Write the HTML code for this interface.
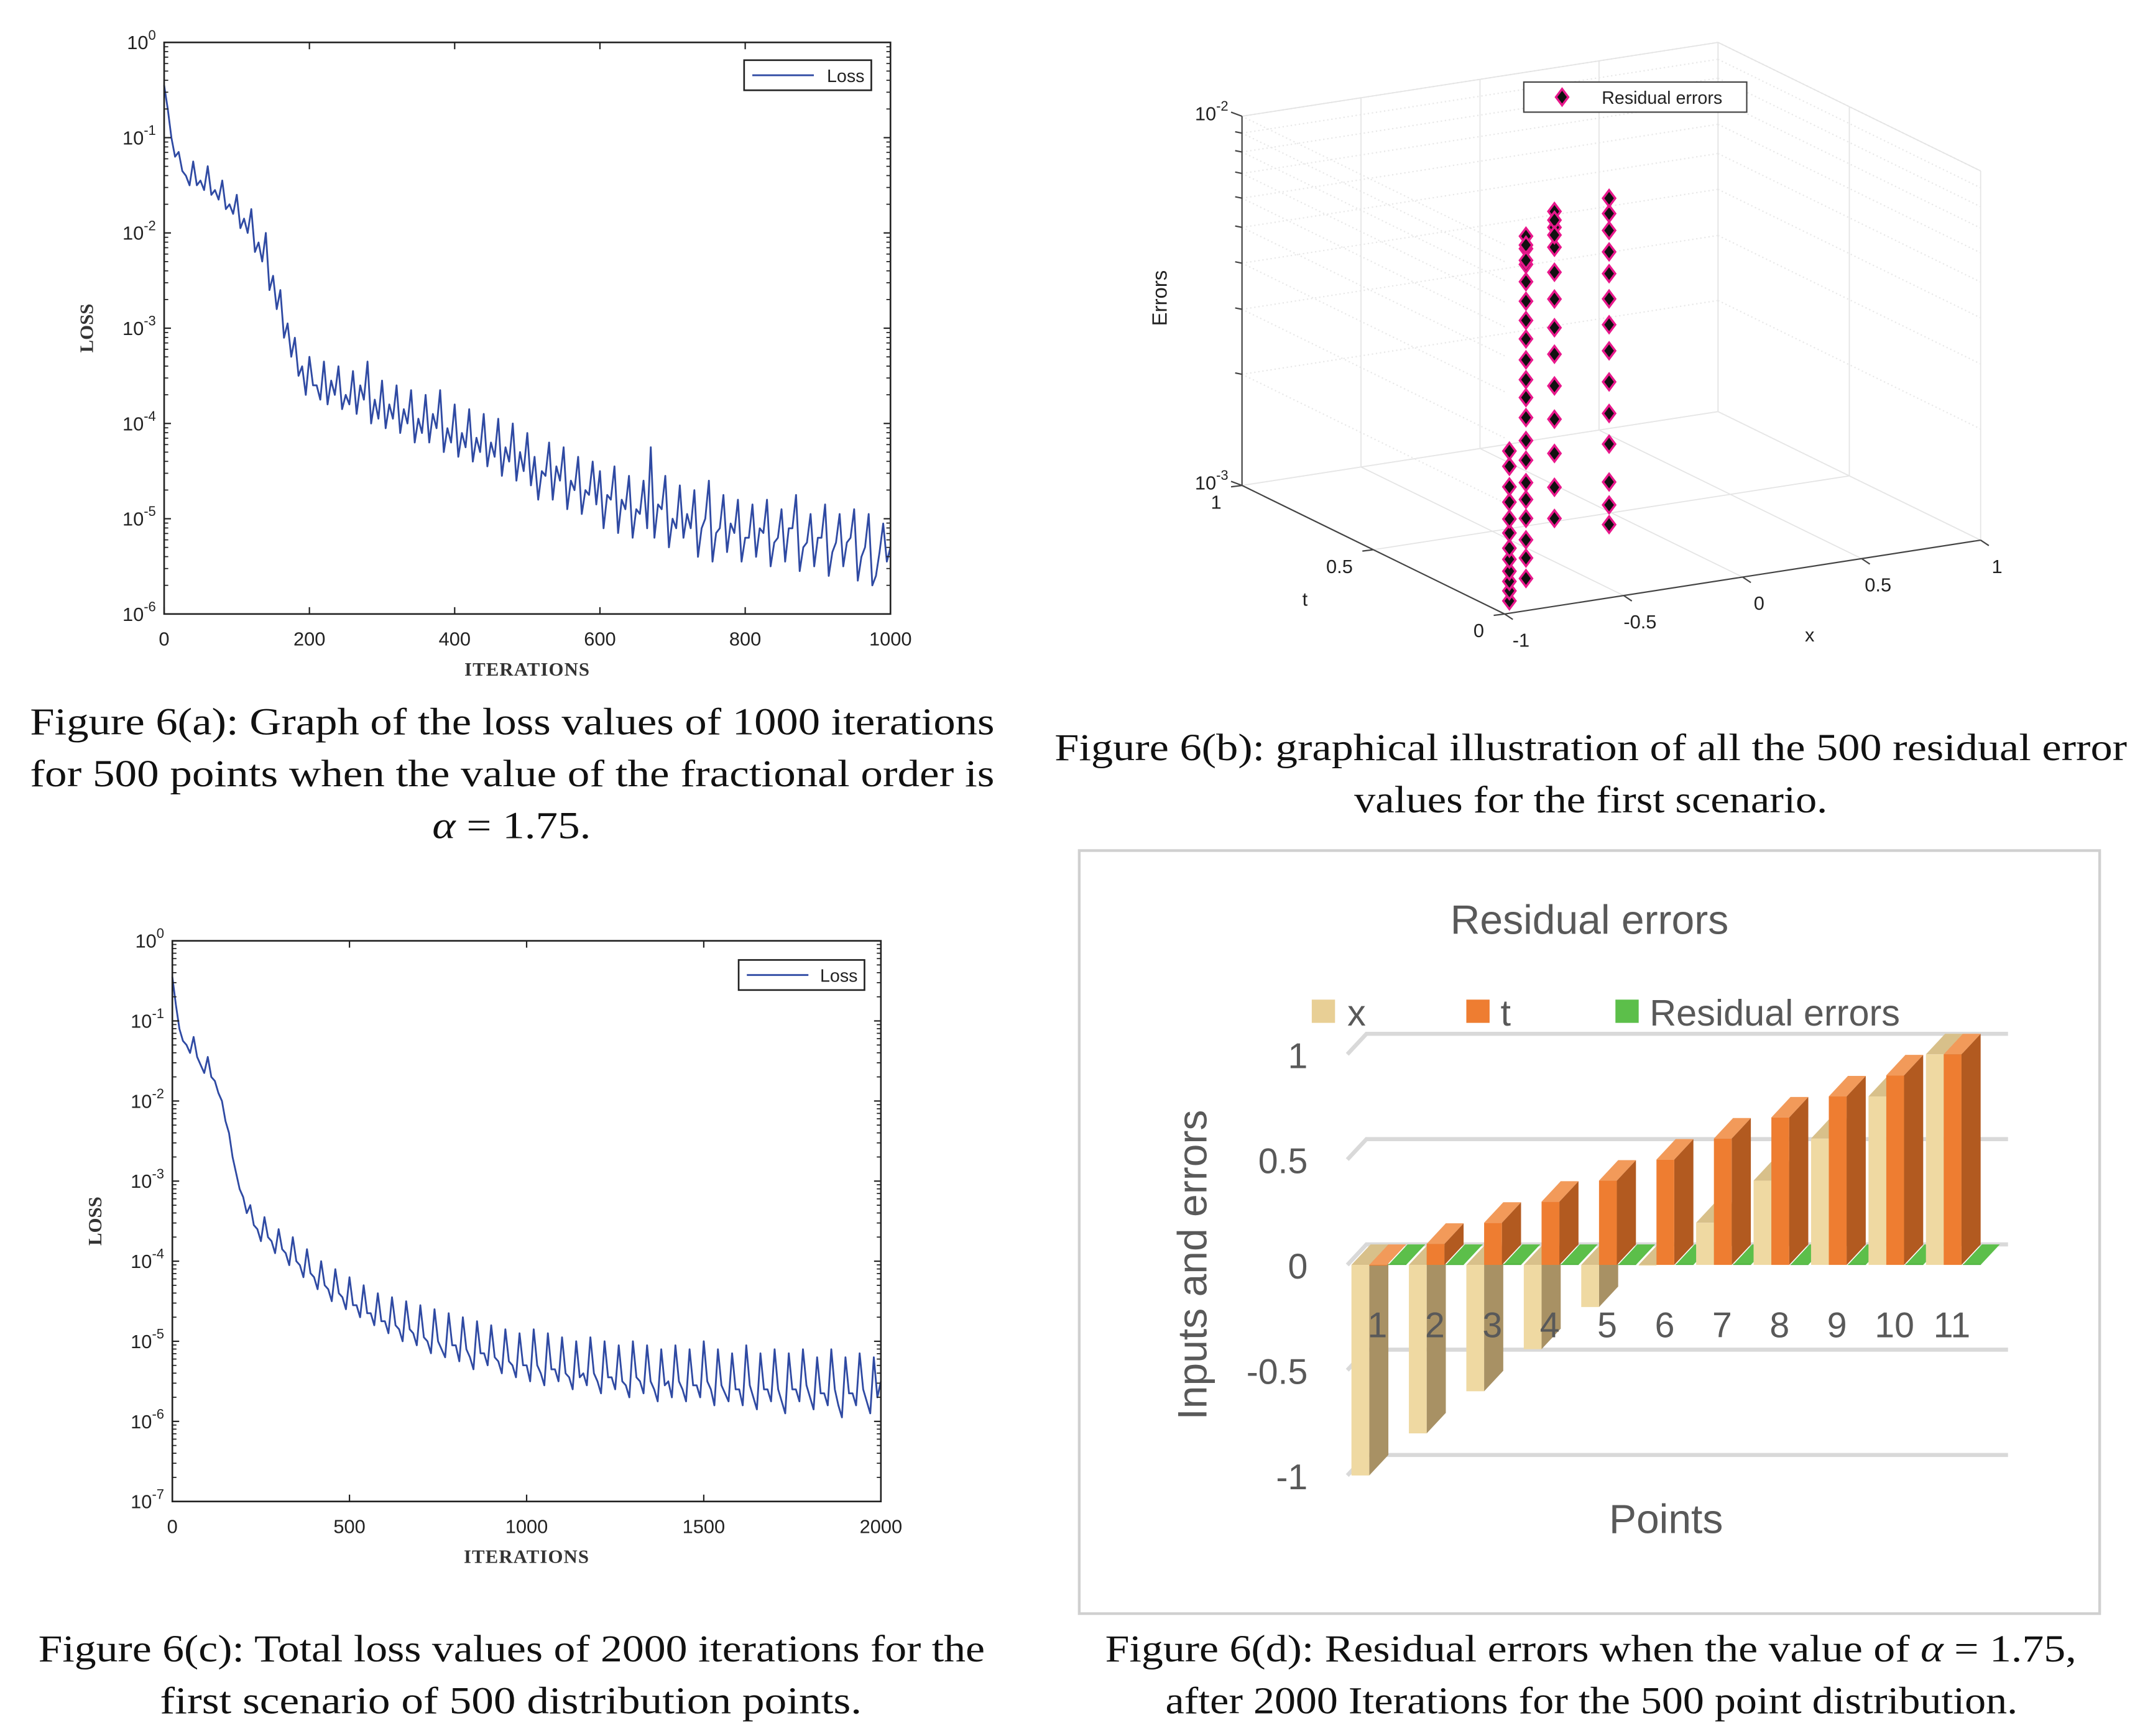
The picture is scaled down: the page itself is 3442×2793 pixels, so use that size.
<!DOCTYPE html>
<html><head><meta charset="utf-8"><style>
html,body{margin:0;padding:0;background:#fff;}
svg{display:block;}
</style></head><body>
<svg id="fig" xmlns="http://www.w3.org/2000/svg" width="3442" height="2793" viewBox="0 0 1564.5 1269.5">
<rect x="0" y="0" width="1564.5" height="1269.5" fill="#fff"/>
<g id="pa"></g>
<g id="pc"></g>
<g id="pb"></g>
<g id="pd"></g>
<g font-family="Liberation Serif, serif" font-size="28" fill="#111" lengthAdjust="spacingAndGlyphs">
<text x="22" y="537" textLength="705" lengthAdjust="spacingAndGlyphs">Figure 6(a): Graph of the loss values of   1000  iterations</text>
<text x="22" y="575" textLength="705" lengthAdjust="spacingAndGlyphs">for  500  points when the value of the fractional order is</text>
<text x="316" y="613" textLength="116" lengthAdjust="spacingAndGlyphs"><tspan font-style="italic">α</tspan> = 1.75.</text>
<text x="771" y="556" textLength="784" lengthAdjust="spacingAndGlyphs">Figure 6(b): graphical illustration of all the  500  residual error</text>
<text x="990" y="594" textLength="346" lengthAdjust="spacingAndGlyphs">values for the first scenario.</text>
<text x="28" y="1215" textLength="692" lengthAdjust="spacingAndGlyphs">Figure 6(c): Total loss values of  2000  iterations for the</text>
<text x="117" y="1253" textLength="513" lengthAdjust="spacingAndGlyphs">first scenario of  500  distribution points.</text>
<text x="808" y="1215" textLength="710" lengthAdjust="spacingAndGlyphs">Figure 6(d): Residual errors when the value of  <tspan font-style="italic">α</tspan> = 1.75,</text>
<text x="852" y="1253" textLength="623" lengthAdjust="spacingAndGlyphs">after 2000 Iterations for the 500 point distribution.</text>
</g>
</svg>
<script>
const NS='http://www.w3.org/2000/svg';
// ---- data: panel (a) log10(loss): peaks every 10 iterations, dips in between ----
const lossA_iters_step = 10;
const lossA = [-0.45,-1.0,-1.15,-1.4,-1.25,-1.45,-1.3,-1.55,-1.45,-1.7,-1.6,-1.85,-1.75,-2.1,-2.0,-2.45,-2.6,-2.95,-3.1,-3.4,-3.3,-3.6,-3.35,-3.55,-3.4,-3.7,-3.45,-3.6,-3.35,-3.75,-3.55,-3.8,-3.6,-3.85,-3.65,-3.95,-3.7,-3.9,-3.65,-4.05,-3.8,-4.1,-3.85,-4.15,-3.9,-4.2,-3.95,-4.25,-4.0,-4.3,-4.1,-4.35,-4.5,-4.2,-4.45,-4.25,-4.6,-4.35,-4.7,-4.4,-4.5,-4.75,-4.45,-4.8,-4.55,-4.9,-4.6,-4.25,-4.85,-4.55,-5.0,-4.65,-4.95,-4.7,-5.1,-4.6,-5.15,-4.75,-5.05,-4.8,-5.2,-4.85,-5.1,-4.8,-5.25,-4.9,-5.1,-4.75,-5.3,-4.95,-5.2,-4.85,-5.35,-4.95,-5.25,-4.9,-5.4,-4.95,-5.6,-5.05,-5.3];
const lossA_dips = [-0.7,-1.2,-1.35,-1.5,-1.5,-1.55,-1.6,-1.65,-1.75,-1.8,-1.95,-2.0,-2.2,-2.3,-2.6,-2.8,-3.1,-3.3,-3.5,-3.7,-3.6,-3.75,-3.8,-3.7,-3.85,-3.8,-3.9,-3.75,-4.0,-3.95,-4.05,-3.95,-4.1,-4.0,-4.2,-4.1,-4.2,-4.05,-4.3,-4.2,-4.35,-4.25,-4.4,-4.3,-4.45,-4.35,-4.55,-4.4,-4.6,-4.5,-4.65,-4.8,-4.55,-4.8,-4.6,-4.9,-4.7,-4.95,-4.75,-4.85,-5.1,-4.8,-5.15,-4.9,-5.2,-4.95,-5.1,-5.2,-4.9,-5.3,-5.1,-5.2,-5.1,-5.4,-5.0,-5.45,-5.1,-5.35,-5.15,-5.45,-5.2,-5.4,-5.15,-5.5,-5.2,-5.45,-5.1,-5.55,-5.25,-5.5,-5.2,-5.6,-5.25,-5.5,-5.2,-5.65,-5.3,-5.7,-5.35,-5.45];
const xTicksA = [0,200,400,600,800,1000];
const yExpA = [0,-1,-2,-3,-4,-5,-6];
// ---- data: panel (c) log10(loss): every 20 iterations, dips in between ----
const lossC_iters_step = 20;
const lossC = [-0.45,-1.1,-1.3,-1.2,-1.55,-1.45,-1.75,-2.0,-2.4,-2.9,-3.2,-3.3,-3.6,-3.45,-3.75,-3.6,-3.9,-3.7,-4.05,-3.85,-4.2,-4.0,-4.35,-4.1,-4.45,-4.2,-4.55,-4.3,-4.65,-4.4,-4.75,-4.45,-4.85,-4.5,-4.9,-4.55,-5.0,-4.6,-5.1,-4.65,-5.05,-4.7,-5.2,-4.75,-5.15,-4.8,-5.25,-4.85,-5.3,-4.9,-5.3,-4.85,-5.4,-4.9,-5.35,-4.95,-5.45,-5.0,-5.4,-4.95,-5.5,-5.0,-5.45,-5.05,-5.55,-5.0,-5.5,-5.05,-5.6,-5.1,-5.5,-5.05,-5.6,-5.1,-5.55,-5.0,-5.6,-5.1,-5.65,-5.15,-5.6,-5.05,-5.7,-5.15,-5.6,-5.1,-5.75,-5.15,-5.6,-5.1,-5.7,-5.2,-5.65,-5.1,-5.8,-5.2,-5.65,-5.15,-5.75,-5.2,-5.5];
const lossC_dips = [-0.8,-1.25,-1.4,-1.45,-1.65,-1.7,-1.9,-2.25,-2.7,-3.1,-3.4,-3.55,-3.75,-3.7,-3.9,-3.85,-4.05,-4.0,-4.2,-4.15,-4.35,-4.3,-4.5,-4.4,-4.6,-4.55,-4.7,-4.65,-4.8,-4.75,-4.9,-4.8,-5.0,-4.85,-5.05,-4.95,-5.15,-5.0,-5.2,-5.05,-5.25,-5.1,-5.35,-5.15,-5.3,-5.2,-5.4,-5.25,-5.45,-5.3,-5.5,-5.3,-5.55,-5.35,-5.5,-5.4,-5.6,-5.45,-5.55,-5.4,-5.65,-5.45,-5.6,-5.5,-5.7,-5.45,-5.65,-5.5,-5.75,-5.55,-5.7,-5.5,-5.75,-5.55,-5.7,-5.5,-5.8,-5.55,-5.75,-5.6,-5.8,-5.55,-5.85,-5.6,-5.75,-5.6,-5.9,-5.6,-5.75,-5.55,-5.85,-5.65,-5.8,-5.6,-5.95,-5.65,-5.8,-5.6,-5.9,-5.7];
const xTicksC = [0,500,1000,1500,2000];
const yExpC = [0,-1,-2,-3,-4,-5,-6,-7];
// ---- data: panel (b) residual points (x, t, error in 1e-3 units) ----
const ptsX = [], ptsT = [], ptsE = [];
const colAE=[1.08,1.15,1.22,1.3,1.4,1.5,1.65,1.8,2.0,2.2,2.5,2.75];
const colBE=[1.1,1.25,1.4,1.6,1.8,2.0,2.3,2.6,3.0,3.4,3.8,4.3,4.9,5.5,6.2,7.0,7.8,8.6,9.3,8.8,8.0];
const colCE=[1.4,1.7,2.1,2.6,3.2,3.9,4.6,5.5,6.5,7.6,8.6,9.5,9.0,8.2];
const colDE=[1.15,1.3,1.5,1.9,2.3,2.8,3.4,4.0,4.7,5.5,6.3,7.2,8.0,8.8];
const colX=[-0.98,-0.8,-0.57,-0.23], colT=[0.0,0.1,0.2,0.3];
[colAE,colBE,colCE,colDE].forEach((c,i)=>c.forEach(e=>{ptsX.push(colX[i]);ptsT.push(colT[i]);ptsE.push(e);}));
// ---- data: panel (d) bars ----
const dCats = ['1','2','3','4','5','6','7','8','9','10','11'];
const dX = [-1,-0.8,-0.6,-0.4,-0.2,0,0.2,0.4,0.6,0.8,1];
const dT = [0,0.1,0.2,0.3,0.4,0.5,0.6,0.7,0.8,0.9,1];
const dErr = [0.004,0.003,0.005,0.004,0.003,0.004,0.005,0.003,0.004,0.005,0.004];
const dYTicks = [1,0.5,0,-0.5,-1];
const dYTickLabels = ['1','0.5','0','-0.5','-1'];

function el(tag,attrs,parent){const e=document.createElementNS(NS,tag);for(const k in attrs)e.setAttribute(k,attrs[k]);if(parent)parent.appendChild(e);return e;}

function lossPanel(g,box,xTicks,yExp,data,dips,step,legend,xLab){
  const [x0,y0,x1,y1]=box, xmax=xTicks[xTicks.length-1], ymin=yExp[yExp.length-1];
  const X=v=>x0+(v/xmax)*(x1-x0), Y=v=>y0+(v/ymin)*(y1-y0);
  let d='';data.forEach((v,i)=>{d+=(i?'L':'M')+X(i*step).toFixed(2)+' '+Y(v).toFixed(2);
    if(i<dips.length&&i<data.length-1)d+='L'+X(i*step+step/2).toFixed(2)+' '+Y(dips[i]).toFixed(2);});
  const line=el('path',{d,fill:'none',stroke:'#2f4aa3','stroke-width':1.3,'stroke-linejoin':'round'},g);
  
  
  const frame=el('rect',{x:x0,y:y0,width:x1-x0,height:y1-y0,fill:'none',stroke:'#222','stroke-width':1.2},g);
  
  
  xTicks.forEach(t=>{const x=X(t);
    el('line',{x1:x,x2:x,y1:y1,y2:y1-5,stroke:'#222'},g);el('line',{x1:x,x2:x,y1:y0,y2:y0+5,stroke:'#222'},g);
    const tx=el('text',{x:x,y:y1+23,'font-family':'Liberation Sans, sans-serif','font-size':14,'text-anchor':'middle',fill:'#222'},g);tx.textContent=t;
    
    });
  yExp.forEach((e,i)=>{const y=Y(e);
    el('line',{x1:x0,x2:x0+5,y1:y,y2:y,stroke:'#222'},g);el('line',{x1:x1,x2:x1-5,y1:y,y2:y,stroke:'#222'},g);
    if(i<yExp.length-1){for(let m=2;m<10;m++){const ym=Y(e-1+Math.log10(m));el('line',{x1:x0,x2:x0+3,y1:ym,y2:ym,stroke:'#222','stroke-width':0.8},g);el('line',{x1:x1,x2:x1-3,y1:ym,y2:ym,stroke:'#222','stroke-width':0.8},g);}}
    const tx=el('text',{x:x0-6,y:y+5,'font-family':'Liberation Sans, sans-serif','font-size':14,'text-anchor':'end',fill:'#222'},g);
    tx.innerHTML='10<tspan dy="-7" font-size="10">'+e+'</tspan>';
    
    });
  const lg=el('g',{},g);
  
  
  el('rect',{x:legend[0],y:legend[1],width:legend[2],height:22,fill:'#fff',stroke:'#222','stroke-width':1.2},lg);
  el('line',{x1:legend[0]+6,x2:legend[0]+51,y1:legend[1]+11,y2:legend[1]+11,stroke:'#2f4aa3','stroke-width':1.3},lg);
  const lt=el('text',{x:legend[0]+legend[2]-5,y:legend[1]+16,'font-family':'Liberation Sans, sans-serif','font-size':13,'text-anchor':'end',fill:'#222'},lg);lt.textContent='Loss';
  const xl=el('text',{x:(x0+x1)/2,y:xLab,'font-family':'Liberation Serif, serif','font-size':14,'font-weight':'bold','text-anchor':'middle',fill:'#333','letter-spacing':'0.5'},g);xl.textContent='ITERATIONS';
  
  
  const yl=el('text',{x:0,y:0,transform:`translate(${x0-52},${(y0+y1)/2}) rotate(-90)`,'font-family':'Liberation Serif, serif','font-size':14,'font-weight':'bold','text-anchor':'middle',fill:'#333'},g);yl.textContent='LOSS';
  
  
}
lossPanel(document.getElementById('pa'),[120,31,651,449],xTicksA,yExpA,lossA,lossA_dips,lossA_iters_step,[544,44,93],494);
lossPanel(document.getElementById('pc'),[126,688,644,1098],xTicksC,yExpC,lossC,lossC_dips,lossC_iters_step,[540,702,92],1143);

// ---- panel b: 3D projection ----
(function(){
  const g=document.getElementById('pb');
  const P=(x,t,le)=>[1100+174*(x+1)-192*t, 449-27*(x+1)-94*t-270*(le+3)];
  const L=(a,b,attrs)=>el('line',Object.assign({x1:a[0],y1:a[1],x2:b[0],y2:b[1]},attrs),g);
  const grid={stroke:'#e4e4e4','stroke-width':0.8};
  [-1,-0.5,0,0.5,1].forEach(x=>{L(P(x,1,-3),P(x,1,-2),grid);L(P(x,0,-3),P(x,1,-3),grid);});
  [0,0.5,1].forEach(t=>{L(P(1,t,-3),P(1,t,-2),grid);L(P(-1,t,-3),P(1,t,-3),grid);});
  for(let m=1;m<=10;m++){const le=-3+Math.log10(m);L(P(-1,0,le),P(-1,1,le),{stroke:'#e8e8e8','stroke-dasharray':'1 2'});L(P(-1,1,le),P(1,1,le),{stroke:'#e8e8e8','stroke-dasharray':'1 2'});L(P(1,1,le),P(1,0,le),{stroke:'#e8e8e8','stroke-dasharray':'1 2'});}
  L(P(-1,1,-2),P(1,1,-2),grid);L(P(1,1,-2),P(1,0,-2),grid);
  const ax={stroke:'#444','stroke-width':1};
  L(P(-1,0,-3),P(-1,1,-3),ax);L(P(-1,0,-3),P(1,0,-3),ax);L(P(-1,1,-3),P(-1,1,-2),ax);
  const tx=(x,y,s,a,fs)=>{const e=el('text',{x,y,'font-family':'Liberation Sans, sans-serif','font-size':fs||14,'text-anchor':a||'middle',fill:'#222'},g);e.innerHTML=s;return e;};
  [-1,-0.5,0,0.5,1].forEach(x=>{const p=P(x,0,-3);L(p,[p[0]+6,p[1]+4],ax);const t=tx(p[0]+12,p[1]+24,String(x));
    
    });
  [0,0.5,1].forEach(t=>{const p=P(-1,t,-3);L(p,[p[0]-8,p[1]+1],ax);const e=tx(p[0]-15,p[1]+17,String(t),'end');
    
    });
  [-3,-2].forEach(le=>{const p=P(-1,1,le);L(p,[p[0]-8,p[1]-3],ax);const e=tx(p[0]-10,p[1]+3,'10<tspan dy="-7" font-size="10">'+le+'</tspan>','end');
    
    });
  for(let m=2;m<10;m++){const p=P(-1,1,-3+Math.log10(m));L(p,[p[0]-5,p[1]-1],ax);}
  const xl=tx(1323,469,'x');
  
  const tl=tx(954,443,'t');
  
  const zl=el('text',{transform:'translate(853,218) rotate(-90)','font-family':'Liberation Sans, sans-serif','font-size':15,'text-anchor':'middle',fill:'#222'},g);zl.textContent='Errors';
  
  
  ptsE.forEach((e,i)=>{const p=P(ptsX[i],ptsT[i],Math.log10(e*1e-3));
    const d=el('path',{d:`M${p[0]} ${p[1]-6}L${p[0]+4.5} ${p[1]}L${p[0]} ${p[1]+6}L${p[0]-4.5} ${p[1]}Z`,fill:'#111',stroke:'#e8188c','stroke-width':1.6},g);
    
    });
  const lg=el('g',{},g);
  
  
  el('rect',{x:1114,y:60,width:163,height:22,fill:'#fff',stroke:'#444'},lg);
  el('path',{d:'M1142 65L1146.5 71L1142 77L1137.5 71Z',fill:'#111',stroke:'#e8188c','stroke-width':1.6},lg);
  const lt=el('text',{x:1171,y:76,'font-family':'Liberation Sans, sans-serif','font-size':13,fill:'#222'},lg);lt.textContent='Residual errors';
})();

// ---- panel d: 3D bar chart ----
(function(){
  const g=document.getElementById('pd');
  const f=el('rect',{x:789,y:622,width:746,height:558,fill:'#fff',stroke:'#d0d0d0','stroke-width':2},g);
  
  
  const gray='#595959';
  const T=(x,y,s,fs,a)=>{const e=el('text',{x,y,'font-family':'Liberation Sans, sans-serif','font-size':fs,'text-anchor':a||'middle',fill:gray},g);e.textContent=s;return e;};
  const tt=T(1162,683,'Residual errors',30);
  
  const Yf=v=>925-154*v;
  const DX=14, DY=-15;
  dYTicks.forEach((v,i)=>{const y=Yf(v);
    el('path',{d:`M985 ${y}L${985+DX} ${y+DY}L1468 ${y+DY}`,fill:'none',stroke:'#d9d9d9','stroke-width':3},g);
    const t=T(956,y+10,dYTickLabels[i],26,'end');
    
    });
  const xC=i=>988+42*i;
  const bar=(x,w,v,cf,ct,cs)=>{const y0=Yf(0),y1=Yf(v);const top=Math.min(y0,y1),bot=Math.max(y0,y1);
    el('path',{d:`M${x+w} ${top}L${x+w+DX} ${top+DY}L${x+w+DX} ${bot+DY}L${x+w} ${bot}Z`,fill:cs},g);
    el('path',{d:`M${x} ${top}L${x+DX} ${top+DY}L${x+w+DX} ${top+DY}L${x+w} ${top}Z`,fill:ct},g);
    return el('rect',{x,y:top,width:w,height:Math.max(bot-top,0.5),fill:cf},g);};
  dCats.forEach((c,i)=>{
    const gr=el('path',{d:`M${xC(i)+27} ${Yf(0)}L${xC(i)+27+DX} ${Yf(0)+DY}L${xC(i)+40+DX} ${Yf(0)+DY}L${xC(i)+40} ${Yf(0)}Z`,fill:'#5cbf4a'},g);
    
    
    const bx=bar(xC(i),13,dX[i],'#efd9a2','#d8c08a','#a89164');
    
    
    const bt=bar(xC(i)+13,13,dT[i],'#ee7d31','#f29a5a','#b25a20');
    
    
    el('rect',{x:xC(i)+27,y:Yf(dErr[i]),width:13,height:Math.max(Yf(0)-Yf(dErr[i]),0.5),fill:'#4caf3e'},g);
    const lb=T(xC(i)+19,978,c,26);
    
    
  });
  const xt=T(1218,1121,'Points',30);
  
  const yt=el('text',{transform:'translate(882,925) rotate(-90)','font-family':'Liberation Sans, sans-serif','font-size':30,'text-anchor':'middle',fill:gray},g);yt.textContent='Inputs and errors';
  
  
  const lg=el('g',{},g);
  
  
  el('rect',{x:959,y:731,width:17,height:17,fill:'#e8cf95'},lg);
  el('rect',{x:1072,y:731,width:17,height:17,fill:'#ee7d31'},lg);
  el('rect',{x:1181,y:731,width:17,height:17,fill:'#5cbf4a'},lg);
  [['x',985],['t',1097],['Residual errors',1206]].forEach(a=>{const e=el('text',{x:a[1],y:750,'font-family':'Liberation Sans, sans-serif','font-size':27,fill:gray},lg);e.textContent=a[0];});
})();
</script>
</body></html>
